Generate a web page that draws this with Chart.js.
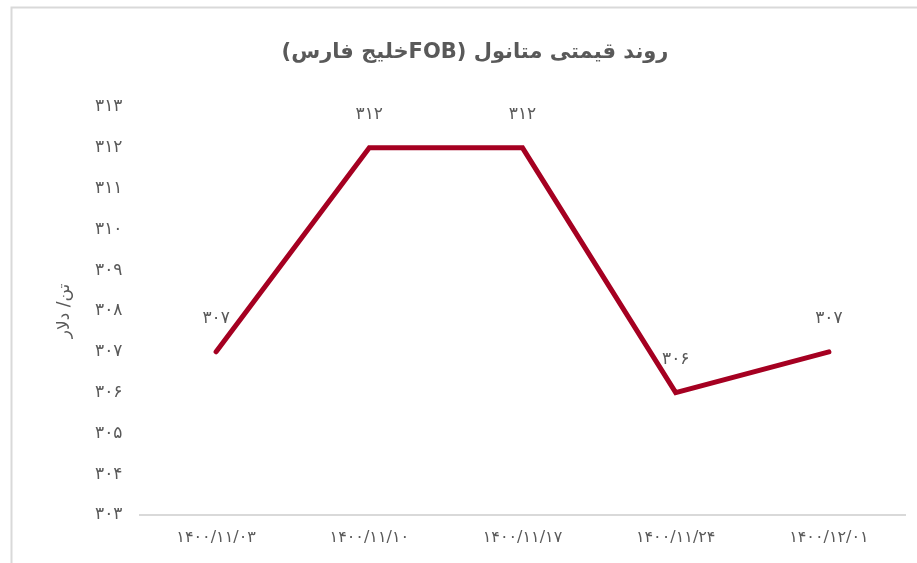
<!DOCTYPE html>
<html>
<head>
<meta charset="utf-8">
<script src="https://cdn.jsdelivr.net/npm/chart.js@4/dist/chart.umd.min.js"></script>
<style>
html,body{margin:0;padding:0;background:#fff;}
#wrap{position:relative;width:917px;height:563px;}
</style>
</head>
<body>
<div id="wrap"><canvas id="c" width="917" height="563"></canvas></div>
<script>
const categories = ['۱۴۰۰/۱۱/۰۳', '۱۴۰۰/۱۱/۱۰', '۱۴۰۰/۱۱/۱۷', '۱۴۰۰/۱۱/۲۴', '۱۴۰۰/۱۲/۰۱'];
const prices = [307, 312, 312, 306, 307];
const yMin = 303;
const yMax = 313;
const chartTitle = 'روند قیمتی متانول (FOBخلیج فارس)';
const yTitle = 'تن/ دلار';

const faDigits = '۰۱۲۳۴۵۶۷۸۹';
function toFa(n){ return String(n).replace(/\d/g, d => faDigits[d]); }

const FONT = "'DejaVu Sans', sans-serif";
const TEXT = '#595959';

const framePlugin = {
  id: 'frame',
  beforeDraw(chart){
    const ctx = chart.ctx;
    ctx.save();
    ctx.fillStyle = '#fff';
    ctx.fillRect(0,0,chart.width,chart.height);
    ctx.strokeStyle = '#d9d9d9';
    ctx.lineWidth = 2;
    ctx.strokeRect(11.5, 7.5, 1000, 1000);
    ctx.restore();
  },
  afterDraw(chart){
    const ctx = chart.ctx;
    ctx.save();
    ctx.direction = 'rtl';
    ctx.textAlign = 'center';
    ctx.textBaseline = 'middle';
    ctx.fillStyle = TEXT;
    ctx.font = "bold 21px 'DejaVu Sans', sans-serif";
    ctx.fillText(chartTitle, 475, 53);
    ctx.restore();
  }
};

const labelPlugin = {
  id: 'pointLabels',
  afterDatasetsDraw(chart){
    const ctx = chart.ctx;
    const meta = chart.getDatasetMeta(0);
    ctx.save();
    ctx.fillStyle = TEXT;
    ctx.font = "17px " + FONT;
    ctx.textAlign = 'center';
    ctx.textBaseline = 'middle';
    meta.data.forEach((pt, i) => {
      ctx.fillText(toFa(chart.data.datasets[0].data[i]), pt.x, pt.y - 33);
    });
    ctx.restore();
  }
};

new Chart(document.getElementById('c'), {
  type: 'line',
  data: {
    labels: categories,
    datasets: [{
      data: prices,
      borderColor: '#A50021',
      backgroundColor: '#A50021',
      borderWidth: 5,
      pointRadius: 0,
      pointHoverRadius: 0,
      tension: 0,
      borderCapStyle: 'round',
      borderJoinStyle: 'miter',
      fill: false
    }]
  },
  options: {
    responsive: false,
    animation: false,
    events: [],
    layout: { padding: { left: 45, right: 11.5, top: 107, bottom: 0 } },
    plugins: {
      legend: { display: false },
      title: { display: false },
      tooltip: { enabled: false }
    },
    scales: {
      x: {
        offset: true,
        grid: { display: false, drawTicks: false },
        border: { display: true, color: '#d9d9d9', width: 2 },
        ticks: { color: TEXT, font: { family: FONT, size: 16 }, padding: 13, maxRotation: 0, autoSkip: false },
        afterFit(scale){ scale.height = 48; }
      },
      y: {
        min: yMin,
        max: yMax,
        grid: { display: false, drawTicks: false },
        border: { display: false },
        ticks: { stepSize: 1, color: TEXT, font: { family: FONT, size: 17 }, padding: 17, callback: v => toFa(v) },
        title: { display: true, text: yTitle, color: TEXT, font: { family: FONT, size: 17 }, padding: { top: 9, bottom: 0 } },
        afterFit(scale){ scale.width = 94.5; }
      }
    }
  },
  plugins: [framePlugin, labelPlugin]
});
</script>
</body>
</html>
